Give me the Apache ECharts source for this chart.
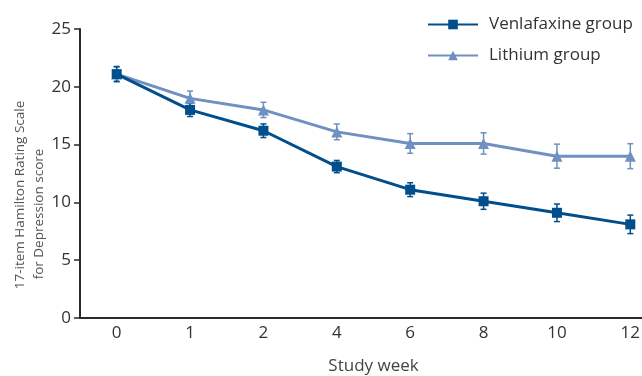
<!DOCTYPE html>
<html>
<head>
<meta charset="utf-8">
<script src="https://cdn.jsdelivr.net/npm/echarts@6/dist/echarts.min.js"></script>
<style>
html,body{margin:0;padding:0;background:#fff;}
#chart{width:642px;height:376px;}
</style>
</head>
<body>
<div id="chart"></div>
<script>
var weeks = ['0', '1', '2', '4', '6', '8', '10', '12'];
var venlafaxine = [21.1, 18.0, 16.2, 13.1, 11.1, 10.1, 9.1, 8.1];
var venlafaxineErr = [0.66, 0.57, 0.59, 0.53, 0.6, 0.7, 0.76, 0.8];
var lithium = [21.1, 19.0, 18.0, 16.1, 15.1, 15.1, 14.0, 14.0];
var lithiumErr = [0.6, 0.63, 0.66, 0.68, 0.85, 0.92, 1.04, 1.08];
var yTicks = [0, 5, 10, 15, 20, 25];

var FONT = '"Open Sans", "Noto Sans", sans-serif';
var C_V = '#004f8c';
var C_L = '#6f90c0';

function errData(vals, errs) {
  return vals.map(function (v, i) { return [i, v - errs[i], v + errs[i]]; });
}
function errRender(color) {
  return function (params, api) {
    var x = api.value(0);
    var lo = api.coord([x, api.value(1)]);
    var hi = api.coord([x, api.value(2)]);
    var cap = 3;
    var st = { stroke: color, lineWidth: 1.5 };
    return {
      type: 'group',
      children: [
        { type: 'line', shape: { x1: lo[0], y1: lo[1], x2: hi[0], y2: hi[1] }, style: st },
        { type: 'line', shape: { x1: lo[0] - cap, y1: lo[1], x2: lo[0] + cap, y2: lo[1] }, style: st },
        { type: 'line', shape: { x1: hi[0] - cap, y1: hi[1], x2: hi[0] + cap, y2: hi[1] }, style: st }
      ]
    };
  };
}

var chart = echarts.init(document.getElementById('chart'), null, { renderer: 'canvas' });
chart.setOption({
  animation: false,
  backgroundColor: '#fff',
  textStyle: { fontFamily: FONT },
  grid: { left: 80, top: 29, bottom: 58, right: -25, containLabel: false, outerBoundsMode: 'none' },
  legend: {
    orient: 'vertical',
    left: 422,
    top: 11,
    itemWidth: 50,
    itemHeight: 12,
    itemGap: 14,
    textStyle: { fontFamily: FONT, fontSize: 17, color: '#333', padding: [0, 0, 0, 6] },
    data: ['Venlafaxine group', 'Lithium group']
  },
  xAxis: {
    type: 'category',
    data: weeks,
    boundaryGap: true,
    name: 'Study week',
    nameLocation: 'middle',
    nameGap: 40,
    nameTextStyle: { fontFamily: FONT, fontSize: 17, color: '#444' },
    axisLine: { lineStyle: { color: '#2a2a2a', width: 2 } },
    axisTick: { alignWithLabel: true, length: 6, lineStyle: { color: '#2a2a2a', width: 1.5 } },
    axisLabel: { fontFamily: FONT, fontSize: 17, color: '#333', margin: 7 },
    splitLine: { show: false }
  },
  yAxis: {
    type: 'value',
    min: yTicks[0],
    max: yTicks[yTicks.length - 1],
    interval: 5,
    axisLine: { show: true, lineStyle: { color: '#2a2a2a', width: 2 } },
    axisTick: { show: true, length: 6, lineStyle: { color: '#2a2a2a', width: 1.5 } },
    axisLabel: { fontFamily: FONT, fontSize: 17, color: '#333', margin: 9 },
    splitLine: { show: false }
  },
  graphic: [{
    type: 'text',
    x: 20,
    y: 195,
    rotation: Math.PI / 2,
    style: {
      text: '17-item Hamilton Rating Scale',
      fontFamily: FONT,
      fontSize: 13.5,
      fill: '#555',
      align: 'center',
      verticalAlign: 'middle'
    }
  }, {
    type: 'text',
    x: 39,
    y: 214,
    rotation: Math.PI / 2,
    style: {
      text: 'for Depression score',
      fontFamily: FONT,
      fontSize: 13.5,
      fill: '#555',
      align: 'center',
      verticalAlign: 'middle'
    }
  }],
  series: [
    {
      type: 'custom',
      name: 'lerr',
      renderItem: errRender(C_L),
      data: errData(lithium, lithiumErr),
      z: 1,
      silent: true
    },
    {
      type: 'custom',
      name: 'verr',
      renderItem: errRender(C_V),
      data: errData(venlafaxine, venlafaxineErr),
      z: 1,
      silent: true
    },
    {
      name: 'Lithium group',
      type: 'line',
      data: lithium,
      symbol: 'triangle',
      symbolSize: 11,
      lineStyle: { color: C_L, width: 3 },
      itemStyle: { color: C_L },
      z: 2
    },
    {
      name: 'Venlafaxine group',
      type: 'line',
      data: venlafaxine,
      symbol: 'rect',
      symbolSize: 10,
      lineStyle: { color: C_V, width: 3 },
      itemStyle: { color: C_V },
      z: 3
    }
  ]
});
</script>
</body>
</html>
